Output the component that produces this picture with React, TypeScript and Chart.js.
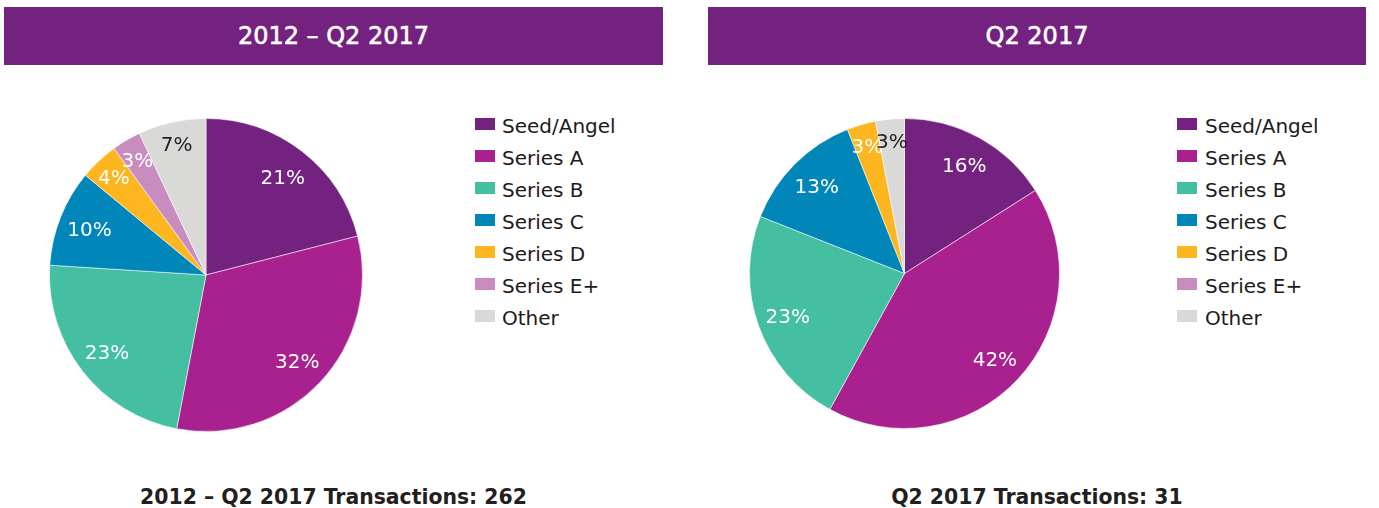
import React, { useEffect, useRef } from "react";
import { Chart, registerables } from "chart.js";

Chart.register(...registerables);

const categories = ["Seed/Angel", "Series A", "Series B", "Series C", "Series D", "Series E+", "Other"];
const colors = ["#74227F", "#A8218E", "#44BFA1", "#0086B8", "#FDB520", "#C98CBF", "#D9D9D7"];
const allTimeValues = [21, 32, 23, 10, 4, 3, 7];
const q2Values = [16, 42, 23, 13, 3, 0, 3];
const panelTitles = ["2012 – Q2 2017", "Q2 2017"];
const footerTitles = ["2012 – Q2 2017 Transactions: 262", "Q2 2017 Transactions: 31"];

const FONT = '"DejaVu Sans", sans-serif';

const labelPlugin = {
  id: "sliceLabels",
  afterDatasetsDraw(chart: any) {
    const ctx = chart.ctx;
    const meta = chart.getDatasetMeta(0);
    const values = chart.data.datasets[0].data as number[];
    ctx.save();
    ctx.font = `20px ${FONT}`;
    ctx.textAlign = "center";
    ctx.textBaseline = "alphabetic";
    meta.data.forEach((arc: any, i: number) => {
      const v = values[i];
      if (!v) return;
      const { x, y, startAngle, endAngle, outerRadius } = arc.getProps(
        ["x", "y", "startAngle", "endAngle", "outerRadius"],
        true
      );
      const mid = (startAngle + endAngle) / 2;
      const f = v < 8 ? 0.86 : 0.8;
      const r = outerRadius * f;
      ctx.fillStyle = i === categories.length - 1 ? "#231F20" : "#FFFFFF";
      ctx.fillText(v + "%", x + Math.cos(mid) * r, y + Math.sin(mid) * r + 7.5);
    });
    ctx.restore();
  },
};

function Pie({ values, left, top, size }: { values: number[]; left: number; top: number; size: number }) {
  const ref = useRef<HTMLCanvasElement>(null);
  useEffect(() => {
    const chart = new Chart(ref.current as HTMLCanvasElement, {
      type: "pie",
      data: {
        labels: categories,
        datasets: [
          {
            data: values,
            backgroundColor: colors,
            borderColor: "rgba(255,255,255,0.55)",
            borderWidth: 1,
          },
        ],
      },
      options: {
        responsive: false,
        animation: false,
        devicePixelRatio: 1,
        layout: { padding: 0 },
        plugins: { legend: { display: false }, tooltip: { enabled: false } },
      },
      plugins: [labelPlugin],
    });
    return () => chart.destroy();
  }, [values]);
  return (
    <canvas
      ref={ref}
      width={size}
      height={size}
      style={{ position: "absolute", left, top, width: size, height: size }}
    />
  );
}

function Legend({ boxLeft, textLeft }: { boxLeft: number; textLeft: number }) {
  return (
    <>
      {categories.map((c, i) => (
        <React.Fragment key={c}>
          <div
            style={{
              position: "absolute",
              left: boxLeft,
              top: 118 + i * 32,
              width: 20,
              height: 12,
              background: colors[i],
            }}
          />
          <div
            style={{
              position: "absolute",
              left: textLeft,
              top: 110 + i * 32,
              height: 32,
              lineHeight: "32px",
              fontSize: 20,
              fontFamily: FONT,
              color: "#1E1A1B",
              whiteSpace: "nowrap",
            }}
          >
            {c}
          </div>
        </React.Fragment>
      ))}
    </>
  );
}

export default function App() {
  const panels = [
    { x: 4, w: 659, values: allTimeValues, pie: { left: 49, top: 118, size: 314 }, legend: { box: 475, text: 502 } },
    { x: 708, w: 658, values: q2Values, pie: { left: 749, top: 118, size: 311 }, legend: { box: 1177, text: 1205 } },
  ];
  return (
    <div
      style={{
        position: "fixed",
        left: 0,
        top: 0,
        width: 1379,
        height: 508,
        background: "#FFFFFF",
        overflow: "hidden",
        fontFamily: FONT,
      }}
    >
      {panels.map((p, k) => (
        <React.Fragment key={k}>
          <div
            style={{
              position: "absolute",
              left: p.x,
              top: 7,
              width: p.w,
              height: 58,
              background: "#74227F",
              color: "#FFFFFF",
              fontWeight: "normal",
              fontSize: 24,
              display: "flex",
              alignItems: "center",
              justifyContent: "center",
              WebkitTextStroke: "0.6px #FFFFFF",
            }}
          >
            {panelTitles[k]}
          </div>
          <Pie values={p.values} left={p.pie.left} top={p.pie.top} size={p.pie.size} />
          <Legend boxLeft={p.legend.box} textLeft={p.legend.text} />
          <div
            style={{
              position: "absolute",
              left: p.x,
              top: 486,
              width: p.w,
              textAlign: "center",
              fontWeight: "bold",
              fontSize: 20.4,
              lineHeight: "22px",
              color: "#231F20",
              whiteSpace: "nowrap",
            }}
          >
            {footerTitles[k]}
          </div>
        </React.Fragment>
      ))}
    </div>
  );
}
